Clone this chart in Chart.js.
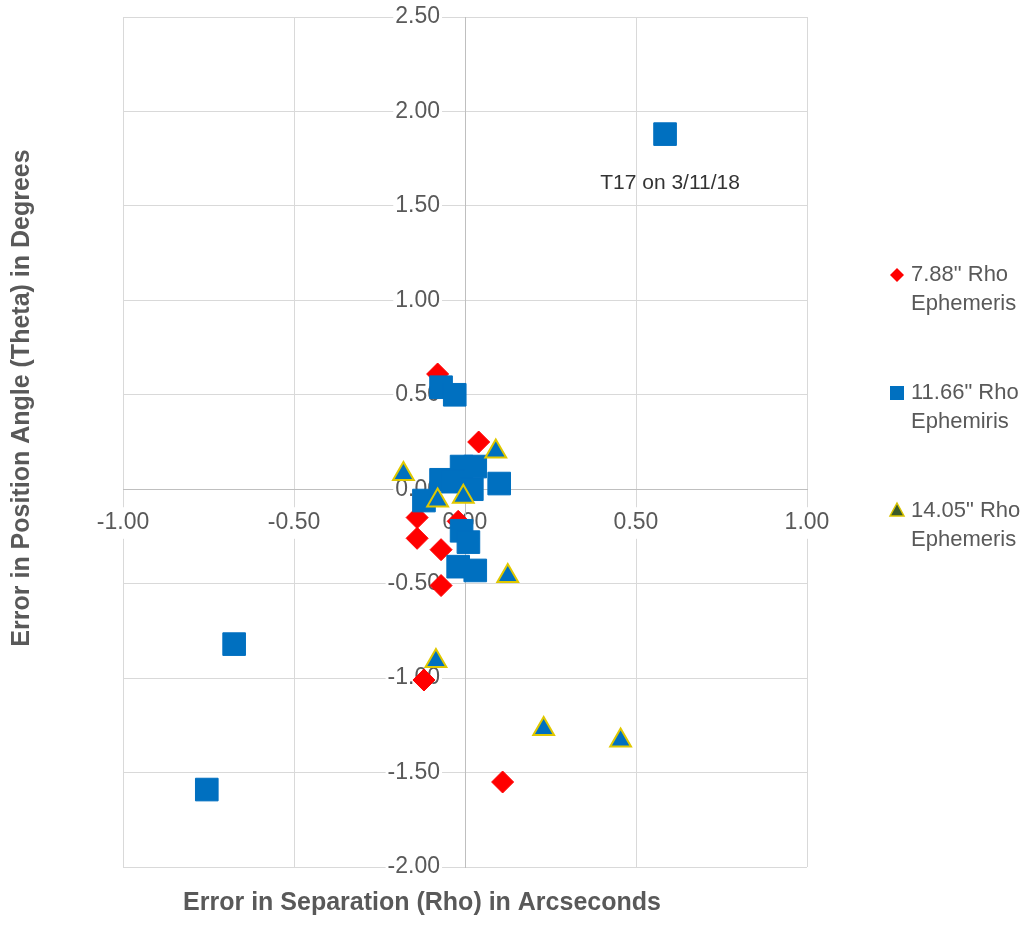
<!DOCTYPE html>
<html>
<head>
<meta charset="utf-8">
<script src="https://cdn.jsdelivr.net/npm/chart.js@4/dist/chart.umd.min.js"></script>
<style>
  body { margin: 0; background: #fff; }
  #wrap { width: 1032px; height: 928px; }
</style>
</head>
<body>
<div id="wrap"><canvas id="chart" width="1032" height="928"></canvas></div>
<script>
// series data
const rho788X = [-0.08, 0.04, -0.14, -0.02, -0.14, -0.07, -0.07, -0.12, 0.11];
const rho788Y = [0.61, 0.25, -0.15, -0.17, -0.26, -0.32, -0.51, -1.01, -1.55];

const rho1166X = [0.585, -0.07, -0.03, -0.07, -0.01, 0.03, -0.035, 0.02, 0.10, -0.12, -0.01, 0.01, -0.02, 0.03, -0.675, -0.755];
const rho1166Y = [1.88, 0.54, 0.50, 0.05, 0.12, 0.12, 0.04, 0.00, 0.03, -0.06, -0.22, -0.28, -0.41, -0.43, -0.82, -1.59];

const rho1405X = [-0.18, 0.09, -0.08, -0.005, 0.125, -0.085, 0.23, 0.455];
const rho1405Y = [0.08, 0.20, -0.06, -0.04, -0.46, -0.91, -1.27, -1.33];

const seriesNames = [['7.88" Rho', 'Ephemeris'], ['11.66" Rho', 'Ephemiris'], ['14.05" Rho', 'Ephemeris']];
const xTitle = 'Error in Separation (Rho) in Arcseconds';
const yTitle = 'Error in Position Angle (Theta) in Degrees';
const noteText = 'T17 on 3/11/18';

const FONT = "'Liberation Sans', Arial, sans-serif";
const GRAY = '#595959';

function pairs(xs, ys) {
    return xs.map((x, i) => ({ x: x, y: ys[i] }));
}

// legend marker
function drawMarker(ctx, style, x, y) {
    ctx.save();
    if (style === 'rectRot') {
        ctx.fillStyle = '#FF0000';
        ctx.beginPath();
        ctx.moveTo(x, y - 7); ctx.lineTo(x + 7, y); ctx.lineTo(x, y + 7); ctx.lineTo(x - 7, y);
        ctx.closePath(); ctx.fill();
    } else if (style === 'rect') {
        ctx.fillStyle = '#0070C0';
        ctx.fillRect(x - 7, y - 7, 14, 14);
    } else {
        ctx.fillStyle = '#3A5A2A';
        ctx.strokeStyle = '#D9C400';
        ctx.lineWidth = 1.5;
        ctx.beginPath();
        ctx.moveTo(x, y - 8); ctx.lineTo(x + 7, y + 5); ctx.lineTo(x - 7, y + 5);
        ctx.closePath(); ctx.fill(); ctx.stroke();
    }
    ctx.restore();
}

const extras = {
    id: 'extras',
    afterDraw(chart) {
        const ctx = chart.ctx;
        const xs = chart.scales.x, ys = chart.scales.y;
        ctx.save();

        // axis titles
        ctx.fillStyle = GRAY;
        ctx.font = 'bold 25px ' + FONT;
        ctx.textAlign = 'center';
        ctx.textBaseline = 'middle';
        ctx.fillText(xTitle, 422, 903);
        ctx.save();
        ctx.translate(22, 398);
        ctx.rotate(-Math.PI / 2);
        ctx.fillText(yTitle, 0, 0);
        ctx.restore();

        // label for the outlier point
        const px = xs.getPixelForValue(rho1166X[0]);
        const py = ys.getPixelForValue(rho1166Y[0]);
        ctx.fillStyle = '#333333';
        ctx.font = '21px ' + FONT;
        ctx.fillText(noteText, px + 5, py + 49);

        // legend
        const styles = ['rectRot', 'rect', 'triangle'];
        ctx.font = '22px ' + FONT;
        ctx.textAlign = 'left';
        seriesNames.forEach((lines, i) => {
            const y0 = 275 + i * 118;
            drawMarker(ctx, styles[i], 897, y0);
            ctx.fillStyle = GRAY;
            lines.forEach((t, j) => ctx.fillText(t, 911, y0 + j * 29));
        });
        ctx.restore();
    }
};

const tickFont = { family: FONT, size: 23 };

const ctx = document.getElementById('chart').getContext('2d');
new Chart(ctx, {
    type: 'scatter',
    data: {
        datasets: [{
            label: seriesNames[0].join(' '),
            data: pairs(rho788X, rho788Y),
            pointStyle: 'rectRot',
            pointRadius: 11,
            backgroundColor: '#FF0000',
            borderColor: '#FF0000',
            borderWidth: 1,
            order: 3
        }, {
            label: seriesNames[1].join(' '),
            data: pairs(rho1166X, rho1166Y),
            pointStyle: 'rect',
            pointRadius: 16,
            backgroundColor: '#0070C0',
            borderColor: '#0070C0',
            borderWidth: 1,
            order: 2
        }, {
            label: seriesNames[2].join(' '),
            data: pairs(rho1405X, rho1405Y),
            pointStyle: 'triangle',
            pointRadius: 12,
            backgroundColor: '#0070C0',
            borderColor: '#E0C800',
            borderWidth: 2,
            order: 1
        }]
    },
    options: {
        responsive: false,
        animation: false,
        layout: { padding: { left: 123, right: 225, top: 0, bottom: 61 } },
        plugins: {
            legend: { display: false },
            tooltip: { enabled: false }
        },
        scales: {
            x: {
                type: 'linear',
                position: { y: 0 },
                min: -1, max: 1,
                grid: { color: '#D9D9D9', drawTicks: false },
                border: { color: '#BFBFBF' },
                ticks: {
                    stepSize: 0.5,
                    padding: 20,
                    color: GRAY,
                    font: tickFont,
                    showLabelBackdrop: true,
                    backdropColor: '#FFFFFF',
                    backdropPadding: 2,
                    maxRotation: 0,
                    callback: v => v.toFixed(2)
                }
            },
            y: {
                type: 'linear',
                position: { x: 0 },
                min: -2, max: 2.5,
                grid: { color: '#D9D9D9', drawTicks: false },
                border: { color: '#BFBFBF' },
                ticks: { stepSize: 0.5, display: false }
            },
            // tick labels of the y axis, set a little left of the axis line
            yLabels: {
                axis: 'y',
                type: 'linear',
                position: { x: -0.073 },
                min: -2, max: 2.5,
                grid: { display: false, drawTicks: false },
                border: { display: false },
                ticks: {
                    stepSize: 0.5,
                    padding: 0,
                    color: GRAY,
                    font: tickFont,
                    showLabelBackdrop: true,
                    backdropColor: '#FFFFFF',
                    backdropPadding: 2,
                    callback: v => v.toFixed(2)
                }
            }
        }
    },
    plugins: [extras]
});
</script>
</body>
</html>
